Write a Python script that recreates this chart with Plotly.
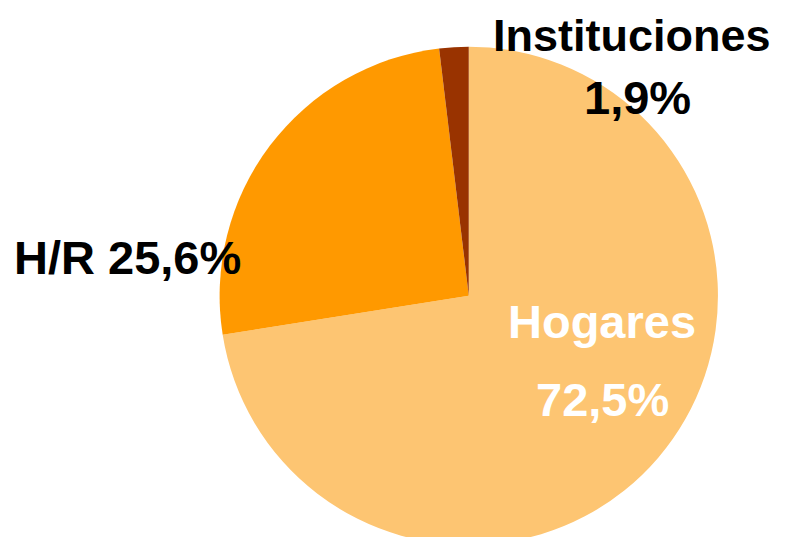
import plotly.graph_objects as go

labels = ["Hogares", "H/R", "Instituciones"]
values = [72.5, 25.6, 1.9]
colors = ["#FDC572", "#FF9900", "#993300"]


def pct(v):
    return f"{v:.1f}".replace(".", ",") + "%"


fig = go.Figure(go.Pie(
    labels=labels, values=values, sort=False, direction="clockwise", rotation=0,
    marker=dict(colors=colors, line=dict(width=0)),
    textinfo="none", hoverinfo="label+percent",
    domain=dict(x=[0.268, 0.900], y=[0.0, 0.928]),
    showlegend=False,
))

W, H = 789, 537
font = dict(family="Liberation Sans, Arial, sans-serif", size=47)
# page has an 8px body margin, so shift positions back
OFF = 8


def note(text, x, y, color="black", size=47):
    fig.add_annotation(text=f"<b>{text}</b>", x=(x - OFF) / W, y=1 - (y - OFF) / H,
                       xref="paper", yref="paper",
                       showarrow=False, xanchor="center", yanchor="middle",
                       font=dict(font, color=color, size=size))


note(labels[2], 632, 35, size=45)
note(pct(values[2]), 637, 98)
note(f"{labels[1]} {pct(values[1])}", 127, 257)
note(labels[0], 602, 321, "white")
note(pct(values[0]), 602, 399, "white")

fig.update_layout(width=W, height=H, margin=dict(l=0, r=0, t=0, b=0),
                  paper_bgcolor="white", plot_bgcolor="white")
fig.write_html("out.html")
